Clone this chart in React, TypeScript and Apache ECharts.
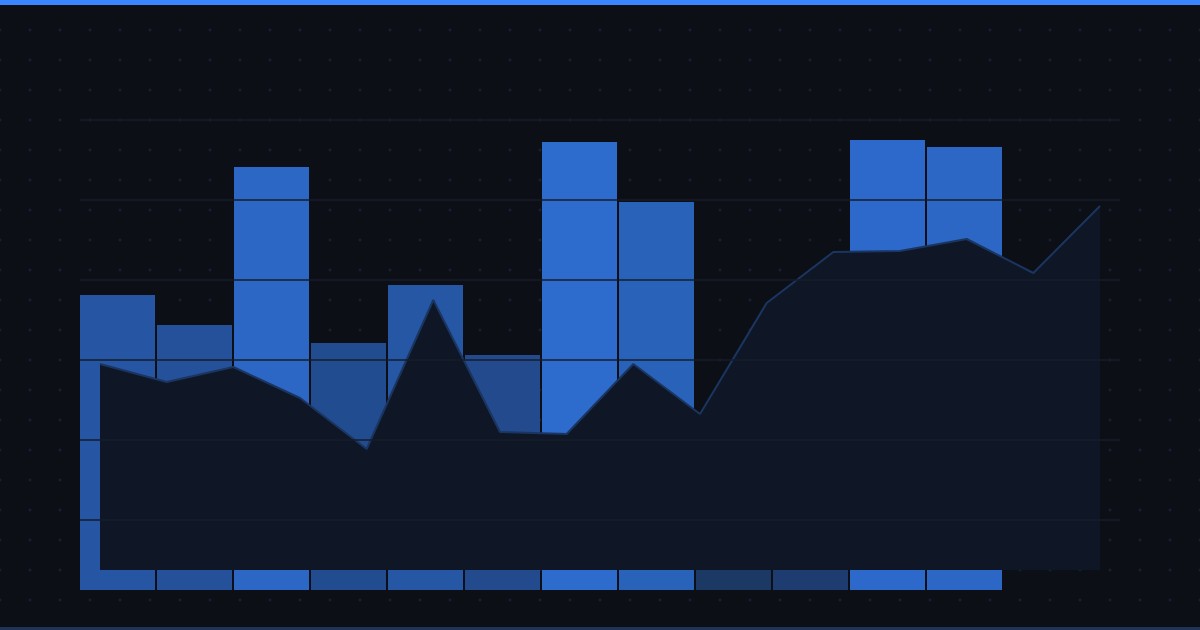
import React, { useEffect, useRef } from 'react'
import * as echarts from 'echarts'

// bar layer (12 columns), heights in px-equivalent units
const barCategories = ['1', '2', '3', '4', '5', '6', '7', '8', '9', '10', '11', '12']
const barValues = [295, 265, 423, 247, 305, 235, 448, 388, 100, 135, 450, 443]
const barColors = [
  '#2656a3', '#24519a', '#2d67c6', '#224c90', '#2657a5', '#224a8d',
  '#2d6bcc', '#2963b9', '#1c3864', '#1e3c70', '#2d69cb', '#2c67c5'
]

// area layer (16 points)
const areaCategories = ['1', '2', '3', '4', '5', '6', '7', '8', '9', '10', '11', '12', '13', '14', '15', '16']
const areaValues = [206, 188, 203, 172, 121, 270, 138, 136, 206, 156, 267, 318, 319, 331, 297, 364]

// horizontal guide lines
const guideTicks = [0, 1, 2, 3, 4, 5]

const plusTile =
  "data:image/svg+xml;utf8," +
  encodeURIComponent(
    "<svg xmlns='http://www.w3.org/2000/svg' width='30' height='30'>" +
      "<rect x='13.5' y='14.5' width='3' height='1' fill='#18253d'/>" +
      "<rect x='14.5' y='13.5' width='1' height='3' fill='#18253d'/>" +
      '</svg>'
  )

const App: React.FC = () => {
  const chartRef = useRef<HTMLDivElement>(null)

  useEffect(() => {
    document.body.style.margin = '0'
    if (!chartRef.current) return
    const chart = echarts.init(chartRef.current, undefined, { renderer: 'svg' })

    const option: echarts.EChartsOption = {
      animation: false,
      backgroundColor: 'transparent',
      grid: [
        { left: 80, right: 80, top: 120, bottom: 110 },
        { left: 79, right: 197, top: 110, bottom: 40 },
        { left: 100, right: 100, top: 120, bottom: 60 }
      ],
      xAxis: [
        { gridIndex: 0, type: 'value', show: false, min: 0, max: 1 },
        {
          gridIndex: 1,
          type: 'category',
          data: barCategories,
          show: false
        },
        {
          gridIndex: 2,
          type: 'category',
          data: areaCategories,
          boundaryGap: false,
          show: false
        }
      ],
      yAxis: [
        {
          gridIndex: 0,
          type: 'value',
          min: guideTicks[0],
          max: guideTicks[guideTicks.length - 1],
          interval: 1,
          z: 10,
          axisLine: { show: false },
          axisTick: { show: false },
          axisLabel: { show: false },
          splitLine: { show: true, lineStyle: { color: '#161d2a', width: 1.5 } }
        },
        { gridIndex: 1, type: 'value', min: 0, max: 480, show: false, splitLine: { show: false } },
        { gridIndex: 2, type: 'value', min: 0, max: 450, show: false, splitLine: { show: false } }
      ],
      graphic: [
        { type: 'rect', left: 0, top: 0, shape: { width: 1200, height: 5 }, style: { fill: '#3a86ff' } },
        { type: 'rect', left: 0, top: 627, shape: { width: 1200, height: 3 }, style: { fill: '#1f3358' } }
      ],
      series: [
        {
          type: 'bar',
          xAxisIndex: 1,
          yAxisIndex: 1,
          barWidth: 75,
          z: 2,
          data: barValues.map((v, i) => ({ value: v, itemStyle: { color: barColors[i] } }))
        },
        {
          type: 'line',
          xAxisIndex: 2,
          yAxisIndex: 2,
          z: 3,
          symbol: 'none',
          data: areaValues,
          lineStyle: { color: '#1b3561', width: 2 },
          areaStyle: { color: '#0f1726', opacity: 1 }
        }
      ]
    }

    chart.setOption(option)
    return () => {
      chart.dispose()
    }
  }, [])

  return (
    <div
      ref={chartRef}
      style={{
        width: 1200,
        height: 630,
        backgroundColor: '#0c0f16',
        backgroundImage: `url("${plusTile}")`,
        backgroundPosition: '-15px -15px'
      }}
    />
  )
}

export default App
